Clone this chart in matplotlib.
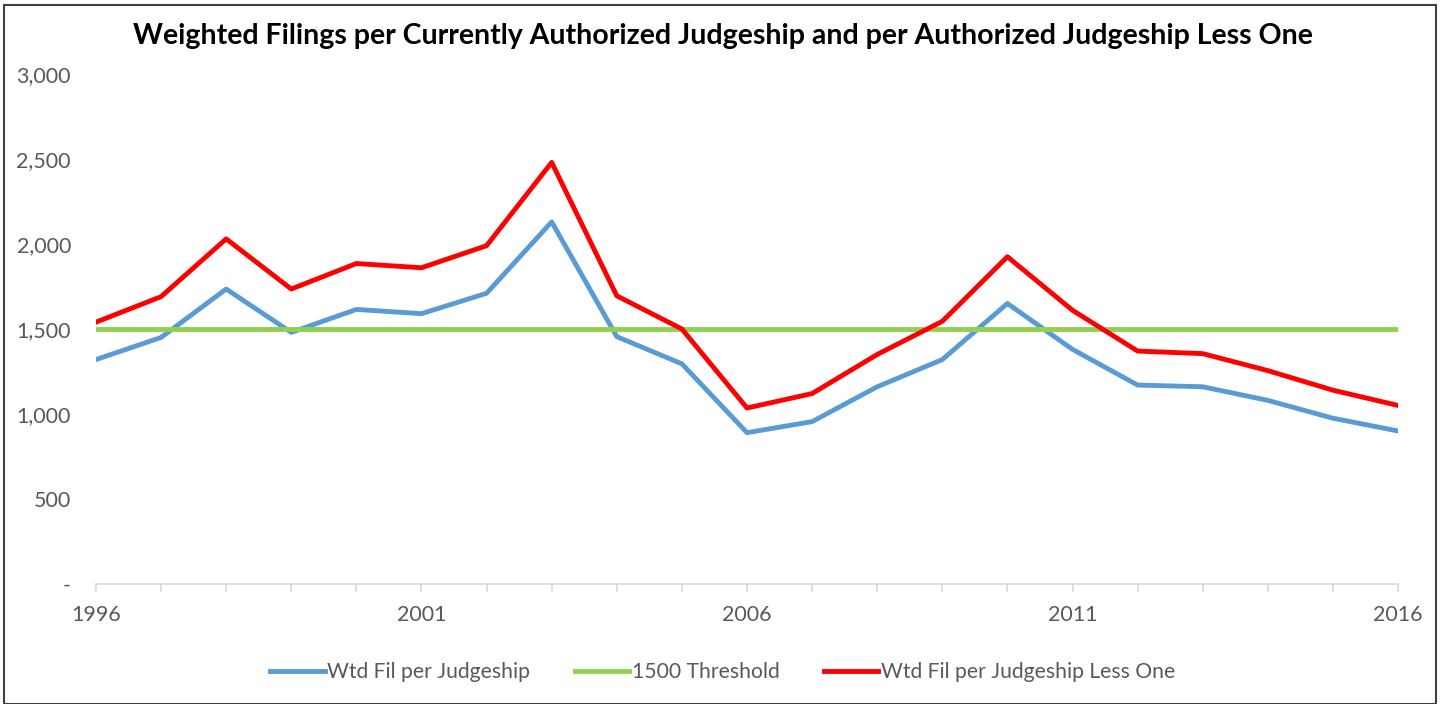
import matplotlib.pyplot as plt
from matplotlib.patches import Rectangle

plt.rcParams['font.family'] = ['Lato', 'DejaVu Sans']

years = list(range(1996, 2017))
wtd_fil = [1320, 1450, 1735, 1480, 1615, 1590, 1710, 2130, 1455, 1295, 890,
           955, 1160, 1320, 1650, 1380, 1170, 1160, 1080, 975, 900]
wtd_fil_less_one = [1540, 1690, 2030, 1735, 1885, 1860, 1990, 2480, 1695, 1500, 1035,
                    1120, 1350, 1545, 1925, 1610, 1370, 1355, 1255, 1140, 1050]
threshold = [1500] * len(years)

fig = plt.figure(figsize=(14.45, 7.04), dpi=100)
ax = fig.add_axes([0.0664, 0.1705, 0.9011, 0.7244])

ax.plot(years, wtd_fil, color='#5B9BD5', lw=3.5, label='Wtd Fil per Judgeship')
ax.plot(years, threshold, color='#92D050', lw=3.5, label='1500 Threshold')
ax.plot(years, wtd_fil_less_one, color='#FF0000', lw=3.5, label='Wtd Fil per Judgeship Less One')

ax.set_xlim(1996, 2016)
ax.set_ylim(0, 3000)
ax.set_yticks([0, 500, 1000, 1500, 2000, 2500, 3000])
ax.set_yticklabels(['-', '500', '1,000', '1,500', '2,000', '2,500', '3,000'])
ax.set_xticks(years)
ax.set_xticklabels([str(y) if (y - 1996) % 5 == 0 else '' for y in years])

for s in ['top', 'right', 'left']:
    ax.spines[s].set_visible(False)
ax.spines['bottom'].set_color('#D9D9D9')
ax.spines['bottom'].set_linewidth(1.2)
ax.tick_params(axis='y', length=0, pad=18, labelsize=15.5, labelcolor='#595959')
ax.tick_params(axis='x', length=6, width=1.2, color='#D9D9D9', pad=9,
               labelsize=15.5, labelcolor='#595959')

fig.suptitle('Weighted Filings per Currently Authorized Judgeship and per Authorized Judgeship Less One',
             x=0.5, y=0.968, fontsize=20.5, fontweight='bold')

ax.legend(loc='center', bbox_to_anchor=(0.5, 1 - 672 / 704), bbox_transform=fig.transFigure,
          ncol=3, frameon=False, fontsize=15.2, handlelength=2.6, handletextpad=0.1,
          columnspacing=2.1, labelcolor='#595959')

fig.patches.append(Rectangle((4 / 1445, 0), 1432 / 1445, 1 - 5 / 704, transform=fig.transFigure,
                             fill=False, edgecolor='#404040', lw=1.5))

fig.savefig('out.png', dpi=100, facecolor='white')
